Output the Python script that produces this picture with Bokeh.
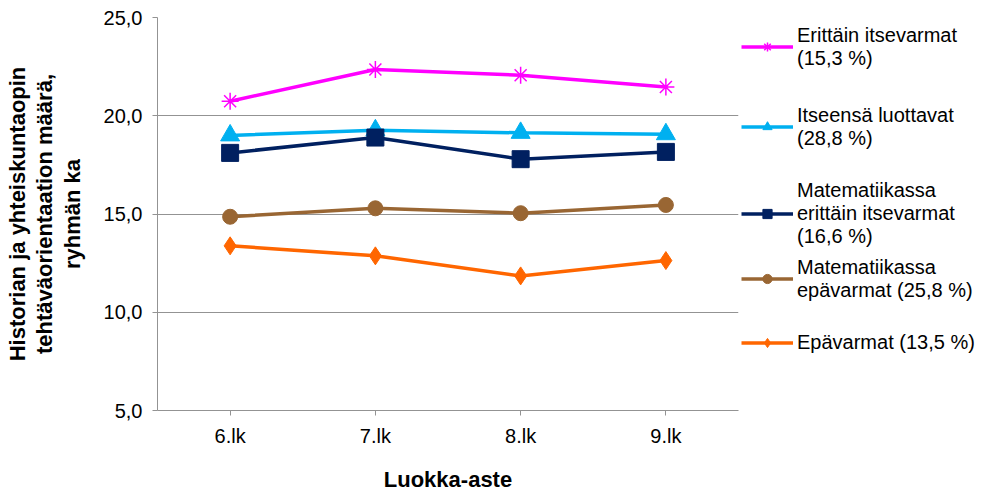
from bokeh.plotting import figure
from bokeh.layouts import row
from bokeh.models import (Range1d, FactorRange, FixedTicker, CustomJSTickFormatter, Legend,
                          LegendItem, ColumnDataSource)
from bokeh.embed import file_html
from bokeh.resources import INLINE

grades = ["6.lk", "7.lk", "8.lk", "9.lk"]

erittain_itsevarmat = [20.74, 22.35, 22.06, 21.46]
itseensa_luottavat = [19.00, 19.26, 19.13, 19.06]
mat_erittain_itsevarmat = [18.11, 18.89, 17.79, 18.16]
mat_epavarmat = [14.86, 15.29, 15.04, 15.46]
epavarmat = [13.38, 12.87, 11.85, 12.63]

series_labels = [
    "Erittäin itsevarmat\n(15,3 %)",
    "Itseensä luottavat\n(28,8 %)",
    "Matematiikassa\nerittäin itsevarmat\n(16,6 %)",
    "Matematiikassa\nepävarmat (25,8 %)",
    "Epävarmat (13,5 %)",
]
y_ticks = [5, 10, 15, 20, 25]

FONT = "Liberation Sans"
GRAY = "#939393"

p = figure(width=740, height=494, x_range=grades, y_range=Range1d(5, 25),
           output_backend="svg", toolbar_location=None,
           min_border_left=157, min_border_right=2, min_border_top=17, min_border_bottom=83)
p.outline_line_color = None
p.x_range.range_padding = 0

# legend panel to the right: a figure without axes whose view range shows no data
lg = figure(width=243, height=494, x_range=FactorRange(*grades), y_range=Range1d(1000, 1001),
            output_backend="svg", toolbar_location=None,
            x_axis_type=None, y_axis_type=None,
            min_border_left=0, min_border_right=0, min_border_top=0, min_border_bottom=0)
lg.outline_line_color = None
lg.xgrid.grid_line_color = None
lg.ygrid.grid_line_color = None

styles = [
    (erittain_itsevarmat, "#FF00FF", "asterisk", 17),
    (itseensa_luottavat, "#00B0F0", "triangle", 19),
    (mat_erittain_itsevarmat, "#002060", "square", 17),
    (mat_epavarmat, "#996633", "circle", 15),
    (epavarmat, "#FF6600", "diamond", 18),
]

def add_series(fig, src, color, marker, size):
    lr = fig.line("x", "y", source=src, line_color=color, line_width=3.5)
    if marker == "asterisk":
        sr = fig.scatter("x", "y", source=src, marker=marker, size=size,
                         line_color=color, line_width=1.5)
    else:
        sr = fig.scatter("x", "y", source=src, marker=marker, size=size,
                         fill_color=color, line_color=color)
    return lr, sr

legend_bottoms = [340.5, 260.5, 162.5, 108.5, 56.5]
for (vals, color, marker, size), label, vy in zip(styles, series_labels, legend_bottoms):
    src = ColumnDataSource(dict(x=grades, y=vals))
    add_series(p, src, color, marker, size)
    lr, sr = add_series(lg, src, color, marker, size)
    leg = Legend(items=[LegendItem(label=label, renderers=[lr, sr])],
                 location=(1, vy), padding=0, margin=0, spacing=0,
                 glyph_width=52, glyph_height=23, label_standoff=4,
                 label_text_font=FONT, label_text_font_size="20px",
                 label_text_line_height=1.15, label_height=23,
                 label_text_color="#000000",
                 border_line_color=None, background_fill_alpha=0)
    lg.add_layout(leg, "center")

# axes
p.yaxis.ticker = FixedTicker(ticks=y_ticks)
p.yaxis.formatter = CustomJSTickFormatter(code="return tick.toFixed(1).replace('.', ',')")
p.ygrid.ticker = FixedTicker(ticks=y_ticks)
p.xgrid.grid_line_color = None
p.ygrid.grid_line_color = GRAY
p.ygrid.grid_line_width = 1

for ax in (p.xaxis[0], p.yaxis[0]):
    ax.axis_line_color = GRAY
    ax.major_tick_line_color = GRAY
    ax.minor_tick_line_color = None
    ax.major_tick_in = 0
    ax.major_tick_out = 5
    ax.major_label_text_font = FONT
    ax.major_label_text_font_size = "20px"
    ax.major_label_text_color = "#000000"
    ax.axis_label_text_font = FONT
    ax.axis_label_text_font_size = "22px"
    ax.axis_label_text_font_style = "bold"
    ax.axis_label_text_color = "#000000"

p.yaxis.axis_label = "Historian ja yhteiskuntaopin\ntehtäväorientaation määrä,\nryhmän ka"
p.yaxis.major_label_standoff = 10
p.yaxis.axis_label_standoff = 16
p.yaxis.axis_label_text_line_height = 1.1

p.xaxis.axis_label = "Luokka-aste"
p.xaxis.major_label_standoff = 9
p.xaxis.axis_label_standoff = 17

open("out.html", "w").write(file_html(row(p, lg), INLINE))
